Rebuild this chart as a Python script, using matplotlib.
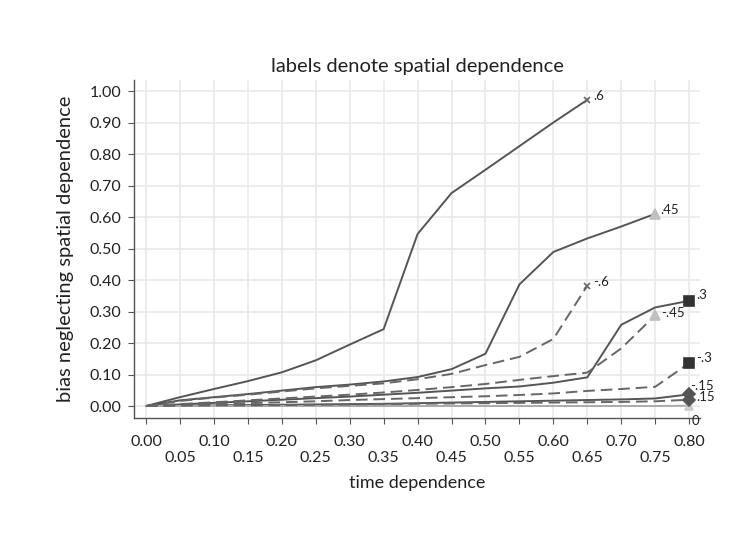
import matplotlib
matplotlib.use("Agg")
import matplotlib.pyplot as plt
import numpy as np

plt.rcParams['font.family'] = ['Lato', 'DejaVu Sans']

# ---- data ----
time_dep = [0.00, 0.05, 0.10, 0.15, 0.20, 0.25, 0.30, 0.35, 0.40,
            0.45, 0.50, 0.55, 0.60, 0.65, 0.70, 0.75, 0.80]

bias_p60 = [0, 0.028, 0.054, 0.079, 0.107, 0.145, 0.195, 0.244, 0.546,
            0.676, 0.75, 0.825, 0.90, 0.972]
bias_p45 = [0, 0.018, 0.028, 0.038, 0.049, 0.060, 0.068, 0.078, 0.092,
            0.117, 0.166, 0.386, 0.489, 0.532, 0.570, 0.610]
bias_p30 = [0, 0.005, 0.010, 0.015, 0.020, 0.025, 0.030, 0.036, 0.042,
            0.049, 0.056, 0.062, 0.074, 0.091, 0.258, 0.313, 0.334]
bias_p15 = [0, 0.001, 0.002, 0.003, 0.004, 0.005, 0.006, 0.007, 0.009,
            0.011, 0.013, 0.015, 0.017, 0.019, 0.021, 0.024, 0.037]
bias_00 = [0, 0, 0, 0, 0, 0, 0, 0, 0, 0, 0, 0, 0, 0, 0, 0, 0.001]
bias_m15 = [0, 0.001, 0.002, 0.002, 0.003, 0.004, 0.005, 0.006, 0.007,
            0.008, 0.009, 0.010, 0.011, 0.012, 0.013, 0.015, 0.020]
bias_m30 = [0, 0.003, 0.006, 0.009, 0.012, 0.015, 0.019, 0.022, 0.025,
            0.028, 0.031, 0.035, 0.040, 0.048, 0.054, 0.061, 0.136]
bias_m45 = [0, 0.006, 0.012, 0.018, 0.024, 0.030, 0.036, 0.043, 0.051,
            0.060, 0.070, 0.083, 0.095, 0.106, 0.183, 0.288]
bias_m60 = [0, 0.016, 0.027, 0.036, 0.046, 0.056, 0.064, 0.072, 0.085,
            0.102, 0.130, 0.156, 0.213, 0.382]

labels = ['.6', '.45', '.3', '.15', '0', '-.15', '-.3', '-.45', '-.6']
series = [bias_p60, bias_p45, bias_p30, bias_p15, bias_00,
          bias_m15, bias_m30, bias_m45, bias_m60]

y_ticks = [0.0, 0.1, 0.2, 0.3, 0.4, 0.5, 0.6, 0.7, 0.8, 0.9, 1.0]
y_ticklabels = ['0.00', '0.10', '0.20', '0.30', '0.40', '0.50', '0.60',
                '0.70', '0.80', '0.90', '1.00']
x_ticklabels = ['0.00', '0.05', '0.10', '0.15', '0.20', '0.25', '0.30',
                '0.35', '0.40', '0.45', '0.50', '0.55', '0.60', '0.65',
                '0.70', '0.75', '0.80']

# ---- styles ----
styles = {
    '.6':   dict(ls='-',  lc='#555555', m='x', mc='#666666', ms=4.5, lab=(4, 3)),
    '.45':  dict(ls='-',  lc='#555555', m='^', mc='#c0c0c0', ms=7, lab=(4, 3)),
    '.3':   dict(ls='-',  lc='#555555', m='s', mc='#333333', ms=7, lab=(5, 4)),
    '.15':  dict(ls='-',  lc='#555555', m='D', mc='#555555', ms=6.5, lab=(5, -2)),
    '0':    dict(ls='-',  lc='#aaaaaa', m='^', mc='#cccccc', ms=6, lab=(2, -11)),
    '-.15': dict(ls='--', lc='#666666', m='D', mc='#555555', ms=6.5, lab=(1, 10)),
    '-.3':  dict(ls='--', lc='#666666', m='s', mc='#333333', ms=7, lab=(5, 4)),
    '-.45': dict(ls='--', lc='#666666', m='^', mc='#c0c0c0', ms=7, lab=(4, 2)),
    '-.6':  dict(ls='--', lc='#666666', m='x', mc='#666666', ms=4.5, lab=(4, 3)),
}

fig = plt.figure(figsize=(7.31, 5.39), dpi=100)
ax = fig.add_axes([0.1833, 0.2245, 0.7743, 0.6271])

for lab, ys in zip(labels, series):
    st = styles[lab]
    xs = time_dep[:len(ys)]
    ax.plot(xs, ys, ls=st['ls'], color=st['lc'], lw=1.4,
            dashes=(6, 3) if st['ls'] == '--' else (None, None), zorder=3)
    ax.plot([xs[-1]], [ys[-1]], marker=st['m'], color=st['mc'],
            ms=st['ms'], mew=1.2, ls='none', zorder=4)
    ax.annotate(lab, (xs[-1], ys[-1]), xytext=st['lab'],
                textcoords='offset points', fontsize=9.5, color='#222222',
                ha='left', va='center', zorder=5)

ax.set_xlim(-0.0177, 0.816)
ax.set_ylim(-0.038, 1.035)
ax.set_xticks(time_dep)
ax.set_xticklabels([t if i % 2 == 0 else '\n' + t
                    for i, t in enumerate(x_ticklabels)])
ax.set_yticks(y_ticks)
ax.set_yticklabels(y_ticklabels)
ax.grid(True, color='#e9e9e9', lw=1.2, zorder=0)
ax.set_axisbelow(True)
for s in ['top', 'right']:
    ax.spines[s].set_visible(False)
for s in ['left', 'bottom']:
    ax.spines[s].set_color('#555555')
    ax.spines[s].set_linewidth(1.0)
ax.tick_params(axis='both', direction='out', length=4, color='#555555',
               labelsize=11.5, labelcolor='#222222', pad=5)
ax.tick_params(axis='x', pad=8)

ax.set_xlabel('time dependence', fontsize=13, color='#222222')
ax.xaxis.set_label_coords(0.5, -0.168)
ax.set_ylabel('bias neglecting spatial dependence', fontsize=14.5,
              color='#222222', labelpad=11)
ax.set_title('labels denote spatial dependence', fontsize=14.5,
             color='#222222', pad=6)

fig.savefig('out.png', dpi=100, facecolor='white')
